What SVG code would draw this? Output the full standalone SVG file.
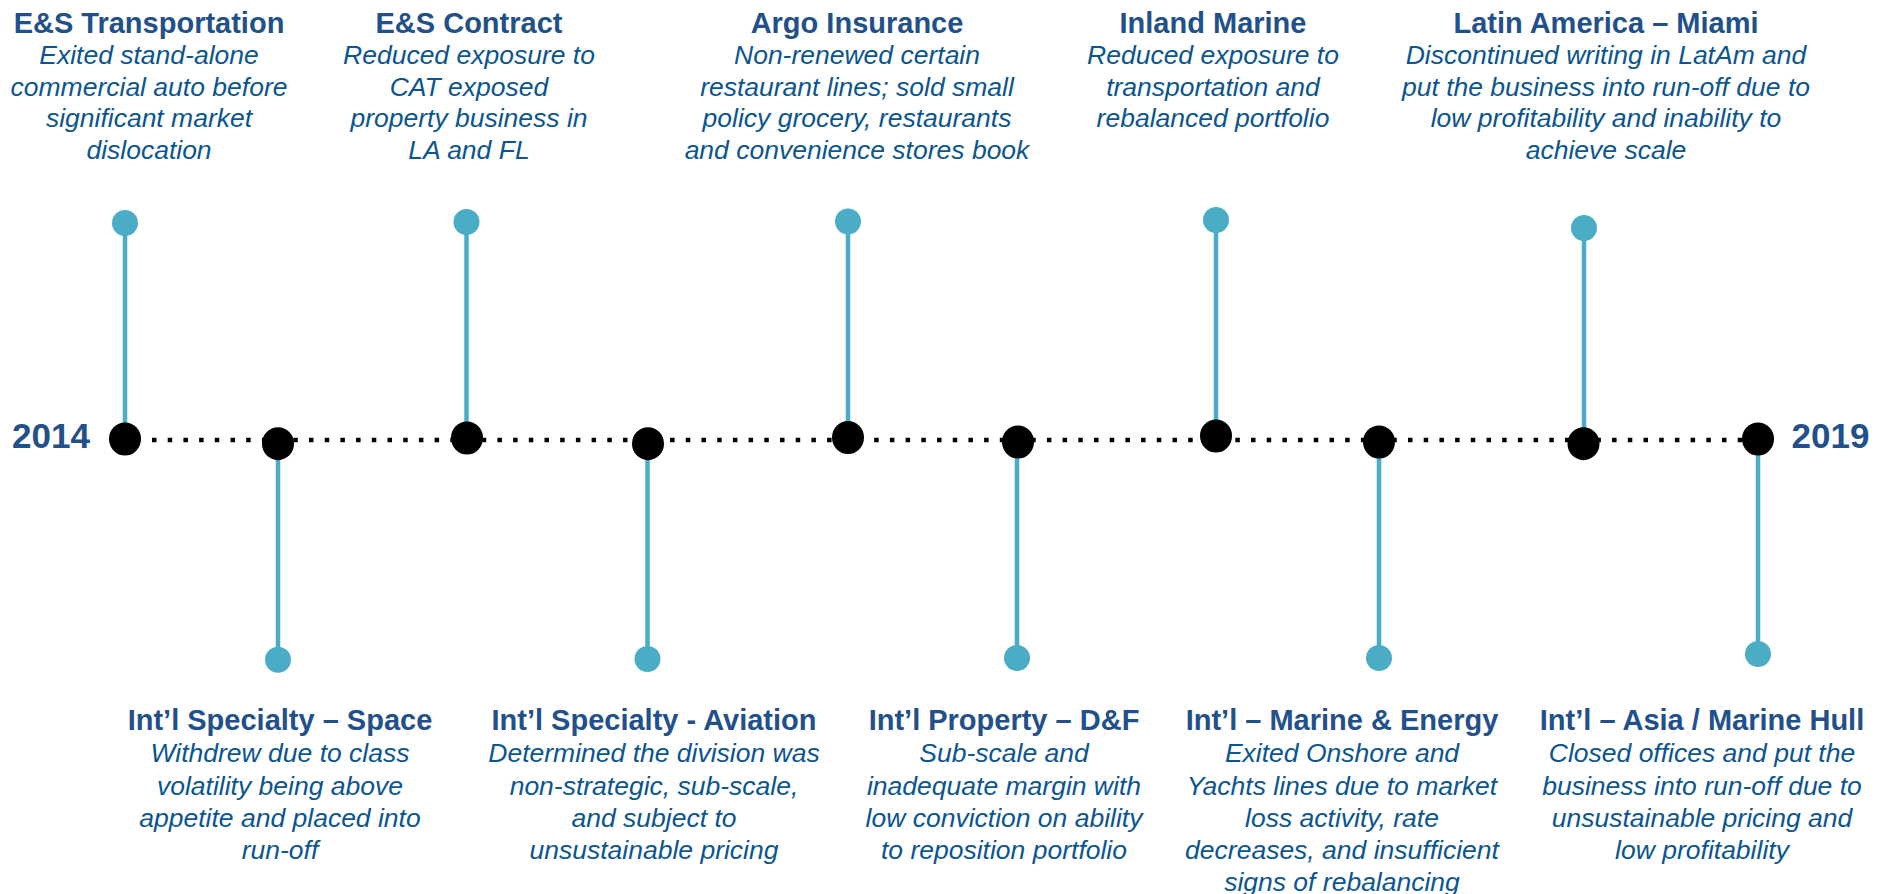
<svg xmlns="http://www.w3.org/2000/svg" width="1879" height="894" viewBox="0 0 1879 894">
<style>
.bg{fill:#ffffff}
.title{font-family:"Liberation Sans",Arial,Helvetica,sans-serif;font-weight:bold;font-size:29px;fill:#22508A;text-anchor:middle}
.body{font-family:"Liberation Sans",Arial,Helvetica,sans-serif;font-style:italic;font-size:26.5px;fill:#0B5590;text-anchor:middle}
.year{font-family:"Liberation Sans",Arial,Helvetica,sans-serif;font-weight:bold;font-size:35px;fill:#22508A;text-anchor:middle}
.stem{stroke:#4BACC6;stroke-width:4.5;fill:none}
.pin{fill:#4BACC6}
.dot{fill:#000000}
.axis{stroke:#000000;stroke-width:4.5;stroke-dasharray:4.5 11.2;fill:none}
</style>
<rect class="bg" x="0" y="0" width="1879" height="894"/>
<g id="connectors">
<line class="axis" x1="152" y1="440" x2="1745" y2="440"/>
<line class="stem" x1="125" y1="223" x2="125" y2="439"/>
<line class="stem" x1="466.5" y1="222" x2="466.5" y2="438"/>
<line class="stem" x1="848" y1="221.5" x2="848" y2="437.5"/>
<line class="stem" x1="1216" y1="220" x2="1216" y2="436"/>
<line class="stem" x1="1584" y1="228" x2="1584" y2="443.7"/>
<line class="stem" x1="278" y1="443.7" x2="278" y2="659.7"/>
<line class="stem" x1="647.5" y1="443.7" x2="647.5" y2="659"/>
<line class="stem" x1="1017" y1="442" x2="1017" y2="658"/>
<line class="stem" x1="1379" y1="442" x2="1379" y2="658"/>
<line class="stem" x1="1758" y1="439" x2="1758" y2="654"/>
</g>
<g id="year-2014"><text class="year" x="51" y="448">2014</text></g>
<g id="year-2019"><text class="year" x="1830.5" y="448">2019</text></g>
<g id="node-es-transportation">
<circle class="pin" cx="125" cy="223" r="13"/>
<ellipse class="dot" cx="125" cy="439" rx="16" ry="16.5"/>
<text class="title" x="149" y="32.5">E&amp;S Transportation</text>
<text class="body" x="149"><tspan x="149" y="63.5">Exited stand-alone</tspan><tspan x="149" y="95.5">commercial auto before</tspan><tspan x="149" y="127.3">significant market</tspan><tspan x="149" y="159">dislocation</tspan></text>
</g>
<g id="node-es-contract">
<circle class="pin" cx="466.5" cy="222" r="13"/>
<ellipse class="dot" cx="467" cy="438" rx="16" ry="16.5"/>
<text class="title" x="469" y="32.5">E&amp;S Contract</text>
<text class="body" x="469"><tspan x="469" y="63.5">Reduced exposure to</tspan><tspan x="469" y="95.5">CAT exposed</tspan><tspan x="469" y="127.3">property business in</tspan><tspan x="469" y="159">LA and FL</tspan></text>
</g>
<g id="node-argo-insurance">
<circle class="pin" cx="848" cy="221.5" r="13"/>
<ellipse class="dot" cx="848" cy="437.5" rx="16" ry="16.5"/>
<text class="title" x="857" y="32.5">Argo Insurance</text>
<text class="body" x="857"><tspan x="857" y="63.5">Non-renewed certain</tspan><tspan x="857" y="95.5">restaurant lines; sold small</tspan><tspan x="857" y="127.3">policy grocery, restaurants</tspan><tspan x="857" y="159">and convenience stores book</tspan></text>
</g>
<g id="node-inland-marine">
<circle class="pin" cx="1216" cy="220" r="13"/>
<ellipse class="dot" cx="1216" cy="436" rx="16" ry="16.5"/>
<text class="title" x="1213" y="32.5">Inland Marine</text>
<text class="body" x="1213"><tspan x="1213" y="63.5">Reduced exposure to</tspan><tspan x="1213" y="95.5">transportation and</tspan><tspan x="1213" y="127.3">rebalanced portfolio</tspan></text>
</g>
<g id="node-latin-america">
<circle class="pin" cx="1584" cy="228" r="13"/>
<ellipse class="dot" cx="1583.5" cy="443.7" rx="16" ry="16.5"/>
<text class="title" x="1606" y="32.5">Latin America – Miami</text>
<text class="body" x="1606"><tspan x="1606" y="63.5">Discontinued writing in LatAm and</tspan><tspan x="1606" y="95.5">put the business into run-off due to</tspan><tspan x="1606" y="127.3">low profitability and inability to</tspan><tspan x="1606" y="159">achieve scale</tspan></text>
</g>
<g id="node-space">
<ellipse class="dot" cx="278" cy="443.7" rx="16" ry="16.5"/>
<circle class="pin" cx="278" cy="659.7" r="13"/>
<text class="title" x="280" y="730">Int’l Specialty – Space</text>
<text class="body" x="280"><tspan x="280" y="762">Withdrew due to class</tspan><tspan x="280" y="794.5">volatility being above</tspan><tspan x="280" y="826.7">appetite and placed into</tspan><tspan x="280" y="859">run-off</tspan></text>
</g>
<g id="node-aviation">
<ellipse class="dot" cx="648" cy="443.7" rx="16" ry="16.5"/>
<circle class="pin" cx="647.5" cy="659" r="13"/>
<text class="title" x="654" y="730">Int’l Specialty - Aviation</text>
<text class="body" x="654"><tspan x="654" y="762">Determined the division was</tspan><tspan x="654" y="794.5">non-strategic, sub-scale,</tspan><tspan x="654" y="826.7">and subject to</tspan><tspan x="654" y="859">unsustainable pricing</tspan></text>
</g>
<g id="node-property">
<ellipse class="dot" cx="1018" cy="442" rx="16" ry="16.5"/>
<circle class="pin" cx="1017" cy="658" r="13"/>
<text class="title" x="1004" y="730">Int’l Property – D&amp;F</text>
<text class="body" x="1004"><tspan x="1004" y="762">Sub-scale and</tspan><tspan x="1004" y="794.5">inadequate margin with</tspan><tspan x="1004" y="826.7">low conviction on ability</tspan><tspan x="1004" y="859">to reposition portfolio</tspan></text>
</g>
<g id="node-marine-energy">
<ellipse class="dot" cx="1379" cy="442" rx="16" ry="16.5"/>
<circle class="pin" cx="1379" cy="658" r="13"/>
<text class="title" x="1342" y="730">Int’l – Marine &amp; Energy</text>
<text class="body" x="1342"><tspan x="1342" y="762">Exited Onshore and</tspan><tspan x="1342" y="794.5">Yachts lines due to market</tspan><tspan x="1342" y="826.7">loss activity, rate</tspan><tspan x="1342" y="859">decreases, and insufficient</tspan><tspan x="1342" y="891">signs of rebalancing</tspan></text>
</g>
<g id="node-asia">
<ellipse class="dot" cx="1758" cy="439" rx="16" ry="16.5"/>
<circle class="pin" cx="1758" cy="654" r="13"/>
<text class="title" x="1702" y="730">Int’l – Asia / Marine Hull</text>
<text class="body" x="1702"><tspan x="1702" y="762">Closed offices and put the</tspan><tspan x="1702" y="794.5">business into run-off due to</tspan><tspan x="1702" y="826.7">unsustainable pricing and</tspan><tspan x="1702" y="859">low profitability</tspan></text>
</g>
</svg>
